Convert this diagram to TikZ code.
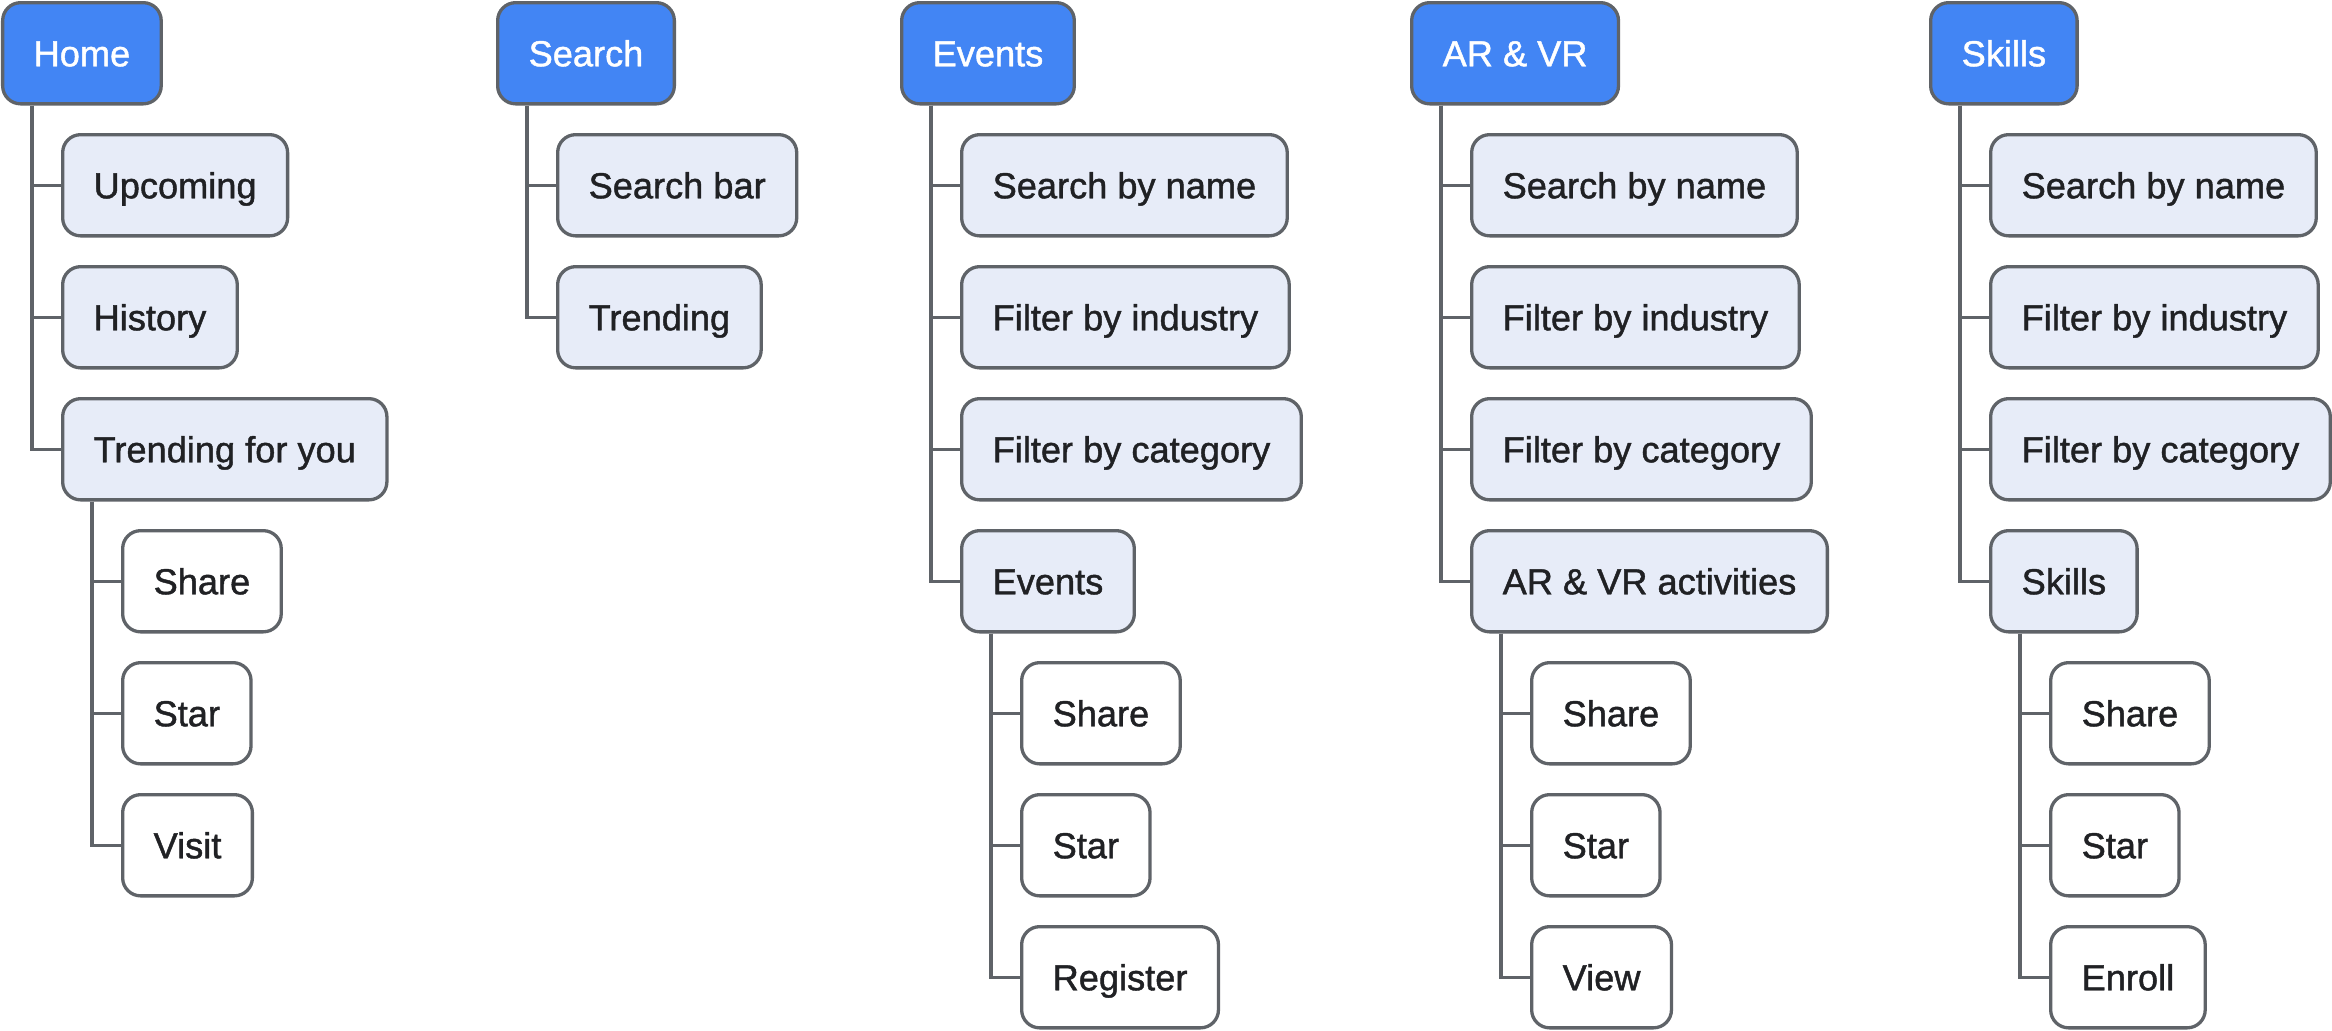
\documentclass[tikz,border=0pt]{standalone}
\usepackage{fontspec}
\setmainfont{Liberation Sans}[BoldFont=Liberation Sans,BoldFeatures={FakeBold=1.2}]
\usetikzlibrary{positioning}
\definecolor{TopBlue}{HTML}{4285F4}
\definecolor{EdgeGrey}{HTML}{5F6368}
\definecolor{SoftBlue}{HTML}{E7ECF8}
\definecolor{InkDark}{HTML}{202124}
\tikzset{
  BX/.style={rectangle,rounded corners=0.18cm,draw=EdgeGrey,line width=0.033cm,
             minimum height=1.012cm,inner xsep=0.31cm,
             text height=7.4pt,text depth=0pt,
             font=\fontsize{10.3}{12}\selectfont\bfseries},
  nTop/.style={BX,fill=TopBlue,text=white,anchor=north west},
  nMid/.style={BX,fill=SoftBlue,text=InkDark},
  nLeaf/.style={BX,fill=white,text=InkDark},
  ln/.style={draw=EdgeGrey,line width=0.032cm}
}

\begin{document}
\begin{tikzpicture}[node distance=0.275cm and 0.6cm]
  \useasboundingbox (0,0) rectangle (23.32,-10.30);

  % top row
  \node[nTop] (home) at (0.01,-0.01) {Home};
  \node[nTop] (srch) at (4.96,-0.01) {Search};
  \node[nTop] (evt)  at (9.00,-0.01) {Events};
  \node[nTop] (arvr) at (14.10,-0.01) {AR \& VR};
  \node[nTop] (skl)  at (19.29,-0.01) {Skills};

  % Home
  \node[nMid,below right=of home.south west] (hup) {Upcoming};
  \node[nMid,below right=0.275cm and 0cm of hup.south west] (hhis) {History};
  \node[nMid,below right=0.275cm and 0cm of hhis.south west] (htrd) {Trending for you};
  \node[nLeaf,below right=of htrd.south west] (hshr) {Share};
  \node[nLeaf,below right=0.275cm and 0cm of hshr.south west] (hstr) {Star};
  \node[nLeaf,below right=0.275cm and 0cm of hstr.south west] (hvis) {Visit};

  % Search
  \node[nMid,below right=of srch.south west] (sbar) {Search bar};
  \node[nMid,below right=0.275cm and 0cm of sbar.south west] (strd) {Trending};

  % Events
  \node[nMid,below right=of evt.south west] (ename) {Search by name};
  \node[nMid,below right=0.275cm and 0cm of ename.south west] (eind) {Filter by industry};
  \node[nMid,below right=0.275cm and 0cm of eind.south west] (ecat) {Filter by category};
  \node[nMid,below right=0.275cm and 0cm of ecat.south west] (elist) {Events};
  \node[nLeaf,below right=of elist.south west] (eshr) {Share};
  \node[nLeaf,below right=0.275cm and 0cm of eshr.south west] (estr) {Star};
  \node[nLeaf,below right=0.275cm and 0cm of estr.south west] (ereg) {Register};

  % AR & VR
  \node[nMid,below right=of arvr.south west] (aname) {Search by name};
  \node[nMid,below right=0.275cm and 0cm of aname.south west] (aind) {Filter by industry};
  \node[nMid,below right=0.275cm and 0cm of aind.south west] (acat) {Filter by category};
  \node[nMid,below right=0.275cm and 0cm of acat.south west] (aact) {AR \& VR activities};
  \node[nLeaf,below right=of aact.south west] (ashr) {Share};
  \node[nLeaf,below right=0.275cm and 0cm of ashr.south west] (astr) {Star};
  \node[nLeaf,below right=0.275cm and 0cm of astr.south west] (aview) {View};

  % Skills
  \node[nMid,below right=of skl.south west] (kname) {Search by name};
  \node[nMid,below right=0.275cm and 0cm of kname.south west] (kind) {Filter by industry};
  \node[nMid,below right=0.275cm and 0cm of kind.south west] (kcat) {Filter by category};
  \node[nMid,below right=0.275cm and 0cm of kcat.south west] (klist) {Skills};
  \node[nLeaf,below right=of klist.south west] (kshr) {Share};
  \node[nLeaf,below right=0.275cm and 0cm of kshr.south west] (kstr) {Star};
  \node[nLeaf,below right=0.275cm and 0cm of kstr.south west] (kenr) {Enroll};

  % tree lines
  \draw[ln](home.south west)++(0.31,0)|-(hup.west);
  \draw[ln](home.south west)++(0.31,0)|-(hhis.west);
  \draw[ln](home.south west)++(0.31,0)|-(htrd.west);
  \draw[ln](htrd.south west)++(0.31,0)|-(hshr.west);
  \draw[ln](htrd.south west)++(0.31,0)|-(hstr.west);
  \draw[ln](htrd.south west)++(0.31,0)|-(hvis.west);

  \draw[ln](srch.south west)++(0.31,0)|-(sbar.west);
  \draw[ln](srch.south west)++(0.31,0)|-(strd.west);

  \draw[ln](evt.south west)++(0.31,0)|-(ename.west);
  \draw[ln](evt.south west)++(0.31,0)|-(eind.west);
  \draw[ln](evt.south west)++(0.31,0)|-(ecat.west);
  \draw[ln](evt.south west)++(0.31,0)|-(elist.west);
  \draw[ln](elist.south west)++(0.31,0)|-(eshr.west);
  \draw[ln](elist.south west)++(0.31,0)|-(estr.west);
  \draw[ln](elist.south west)++(0.31,0)|-(ereg.west);

  \draw[ln](arvr.south west)++(0.31,0)|-(aname.west);
  \draw[ln](arvr.south west)++(0.31,0)|-(aind.west);
  \draw[ln](arvr.south west)++(0.31,0)|-(acat.west);
  \draw[ln](arvr.south west)++(0.31,0)|-(aact.west);
  \draw[ln](aact.south west)++(0.31,0)|-(ashr.west);
  \draw[ln](aact.south west)++(0.31,0)|-(astr.west);
  \draw[ln](aact.south west)++(0.31,0)|-(aview.west);

  \draw[ln](skl.south west)++(0.31,0)|-(kname.west);
  \draw[ln](skl.south west)++(0.31,0)|-(kind.west);
  \draw[ln](skl.south west)++(0.31,0)|-(kcat.west);
  \draw[ln](skl.south west)++(0.31,0)|-(klist.west);
  \draw[ln](klist.south west)++(0.31,0)|-(kshr.west);
  \draw[ln](klist.south west)++(0.31,0)|-(kstr.west);
  \draw[ln](klist.south west)++(0.31,0)|-(kenr.west);
\end{tikzpicture}
\end{document}
